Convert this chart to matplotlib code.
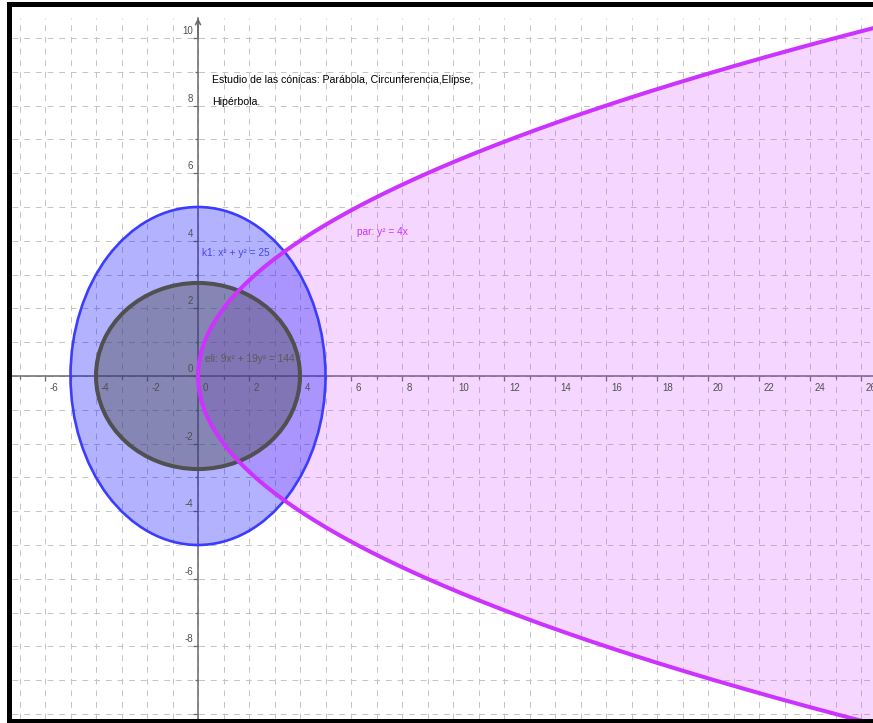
import numpy as np
import matplotlib
matplotlib.use("Agg")
import matplotlib.pyplot as plt
from matplotlib.patches import Ellipse, Rectangle
from matplotlib.ticker import MultipleLocator

# conicas: circunferencia x^2 + y^2 = r^2, elipse a x^2 + b y^2 = c, parabola y^2 = p x
radio = 5
eli_a, eli_b, eli_c = 9, 19, 144
par_p = 4

ticks_x = [-6, -4, -2, 0, 2, 4, 6, 8, 10, 12, 14, 16, 18, 20, 22, 24, 26]
ticks_y = [-8, -6, -4, -2, 0, 2, 4, 6, 8, 10]

titulo_1 = "Estudio de las cónicas: Parábola, Circunferencia,Elipse,"
titulo_2 = "Hipérbola."
etq_circ = "k1: x² + y² = 25"
etq_par = "par: y² = 4x"
etq_eli = "eli: 9x² + 19y² = 144"

W, H = 873, 723
fig = plt.figure(figsize=(W / 100, H / 100), dpi=100)
fig.patch.set_facecolor("white")

# zona grafica en pixeles (izq 12, arriba 18, abajo 719)
ax = fig.add_axes([12 / W, (H - 719) / H, (W - 12) / W, (719 - 18) / H])
xmin, xmax = (12 - 198) / 25.5, (873 - 198) / 25.5
ymin, ymax = (376 - 719) / 33.8, (376 - 18) / 33.8
ax.set_xlim(xmin, xmax)
ax.set_ylim(ymin, ymax)

# cuadricula
ax.xaxis.set_minor_locator(MultipleLocator(1))
ax.yaxis.set_minor_locator(MultipleLocator(1))
ax.xaxis.set_major_locator(MultipleLocator(2))
ax.yaxis.set_major_locator(MultipleLocator(2))
ax.grid(which="both", color="#c4c4c4", linestyle=(0, (6, 6)), linewidth=0.7)
ax.set_axisbelow(True)

# parabola (relleno region interior)
yy = np.linspace(ymin - 1, ymax + 1, 600)
xx = yy ** 2 / par_p
ax.fill_betweenx(yy, xx, xmax + 5, color="#cc33ff", alpha=0.2, linewidth=0, zorder=2)

# circunferencia
circ = Ellipse((0, 0), 2 * radio, 2 * radio, facecolor=(0, 0, 1, 0.3),
               edgecolor="#3c3cff", linewidth=1.9, zorder=3)
ax.add_patch(circ)

# elipse
semi_x = np.sqrt(eli_c / eli_a)
semi_y = np.sqrt(eli_c / eli_b)
eli = Ellipse((0, 0), 2 * semi_x, 2 * semi_y, facecolor=(0.3, 0.3, 0.33, 0.43),
              edgecolor="#505050", linewidth=2.9, zorder=4)
ax.add_patch(eli)

ax.plot(xx, yy, color="#cc33ff", linewidth=2.9, zorder=5, solid_capstyle="butt")

# ejes al estilo GeoGebra
for s in ["top", "right"]:
    ax.spines[s].set_visible(False)
ax.spines["left"].set_position(("data", 0))
ax.spines["bottom"].set_position(("data", 0))
for s in ["left", "bottom"]:
    ax.spines[s].set_color("#6a6a6a")
    ax.spines[s].set_linewidth(1.1)
    ax.spines[s].set_zorder(1.5)
ax.tick_params(which="major", direction="out", length=3.5, width=0.9, color="#6a6a6a",
               labelbottom=False, labelleft=False)
ax.tick_params(which="minor", direction="out", length=2, width=0.9, color="#6a6a6a")
ax.annotate("", xy=(0, ymax), xytext=(0, ymax - 0.6),
            arrowprops=dict(arrowstyle="->", color="#6a6a6a", lw=1.1,
                            shrinkA=0, shrinkB=0, mutation_scale=9))

fuente = ["Liberation Sans", "DejaVu Sans"]
for t in ticks_x:
    ax.annotate(str(t), xy=(t, 0), xytext=(3.5, -5), textcoords="offset points",
                ha="left", va="top", fontsize=7, color="#505050", family=fuente)
for t in ticks_y:
    ax.annotate(str(t), xy=(0, t), xytext=(-3.5, 1.5), textcoords="offset points",
                ha="right", va="bottom", fontsize=7, color="#505050", family=fuente)

estrecha = ["Liberation Sans Narrow", "Liberation Sans", "DejaVu Sans"]
x_tit = (212 - 198) / 25.5
ax.text(x_tit, (376 - 83) / 33.8, titulo_1, fontsize=7.6, color="black",
        family=estrecha, va="baseline", ha="left", zorder=6)
ax.text(x_tit, (376 - 105) / 33.8, titulo_2, fontsize=7.6, color="black",
        family=estrecha, va="baseline", ha="left", zorder=6)
ax.text(0.145, 3.54, etq_circ, fontsize=7.3, color="#4646f0", family=estrecha,
        va="baseline", ha="left", zorder=6)
ax.text(6.22, 4.16, etq_par, fontsize=7.3, color="#cc33ff", family=estrecha,
        va="baseline", ha="left", zorder=6)
ax.text(0.27, 0.41, etq_eli, fontsize=7.3, color="#5a5a5a", family=estrecha,
        va="baseline", ha="left", zorder=6)

# marco negro de la ventana
fig.add_artist(Rectangle((7 / W, 0), 5 / W, 1 - 2 / H, transform=fig.transFigure,
                         facecolor="black", edgecolor="none"))
fig.add_artist(Rectangle((7 / W, 1 - 7 / H), 1, 5 / H, transform=fig.transFigure,
                         facecolor="black", edgecolor="none"))
fig.add_artist(Rectangle((7 / W, 0), 1, 4 / H, transform=fig.transFigure,
                         facecolor="black", edgecolor="none"))

fig.savefig("out.png", dpi=100)
